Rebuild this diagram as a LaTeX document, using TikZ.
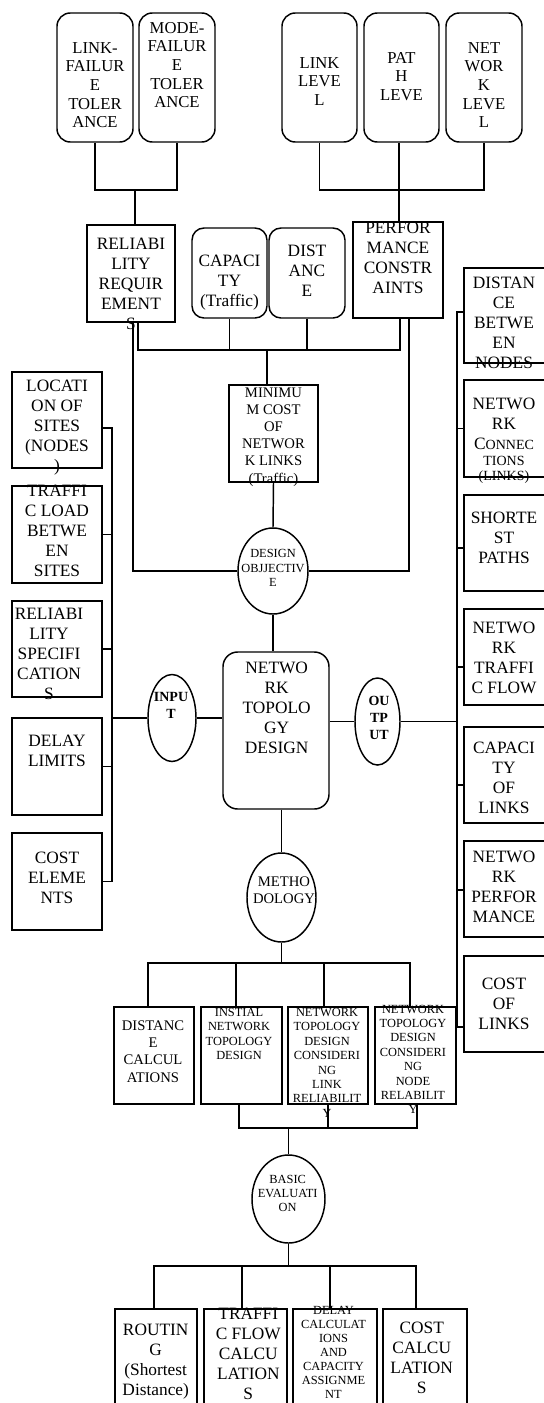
\documentclass[tikz,border=0pt]{standalone}
\usepackage{fontspec}
\setmainfont{Liberation Serif}
\usetikzlibrary{positioning,shapes.geometric}

\begin{document}
\begin{tikzpicture}[x=0.75pt,y=-0.75pt,
			line width=1.1pt,
			box/.style={draw,inner sep=0pt},
			rbox/.style={box,rounded corners=9pt},
			oval/.style={draw,ellipse,inner sep=0pt},
			sz/.style 2 args={minimum width=#1*0.75pt,minimum height=#2*0.75pt},
			lbl/.style={anchor=north,inner sep=0pt,align=center},
			toptxt/.style={lbl,font=\fontsize{12.5}{14}\selectfont},
			bigtxt/.style={lbl,font=\fontsize{13}{15}\selectfont},
			midtxt/.style={lbl,font=\fontsize{11}{12.9}\selectfont},
			smalltxt/.style={lbl,font=\fontsize{9.3}{10.8}\selectfont},
			boldtxt/.style={lbl,font=\fontsize{10.5}{12.6}\selectfont\bfseries}]
			
			\useasboundingbox (0,0) rectangle (543,1403);
			
			% goals on top
			\node[rbox,sz={76}{129},rounded corners=10pt] (lf) at (95,77.5) {};
			\node[rbox,sz={76}{129},rounded corners=10pt] (mf) at (177,77.5) {};
			\node[rbox,sz={75}{129},rounded corners=10pt] (ll) at (319.5,77.5) {};
			\node[rbox,sz={75}{129},rounded corners=10pt] (pl) at (401.5,77.5) {};
			\node[rbox,sz={76}{129},rounded corners=10pt] (nl) at (484,77.5) {};
			\node[toptxt] (lftext) at (95,41.5) {LINK-\\FAILUR\\E\\TOLER\\ANCE};
			\node[toptxt] (mftext) at (177,21.5) {MODE-\\FAILUR\\E\\TOLER\\ANCE};
			\node[toptxt] (lltext) at (319.5,56.5) {LINK\\LEVE\\L};
			\node[toptxt] (pltext) at (401.5,51.5) {PAT\\H\\LEVE};
			\node[toptxt] (nltext) at (484,41.5) {NET\\WOR\\K\\LEVE\\L};
			
			% requirements and constraints
			\node[box,sz={88}{97}] (rr) at (131,273.5) {};
			\node[rbox,sz={75}{90}] (cap) at (229.5,273) {};
			\node[rbox,sz={76}{90}] (dst) at (307,273) {};
			\node[box,sz={90}{96}] (pc) at (398,270) {};
			\node[bigtxt] (rrtext) at (131,237.3) {RELIABI\\LITY\\REQUIR\\EMENT\\S};
			\node[bigtxt] (captext) at (229.5,254.3) {CAPACI\\TY\\(Traffic)};
			\node[bigtxt] (dsttext) at (307,244.3) {DIST\\ANC\\E};
			\node[bigtxt] (pctext) at (398,221) {PERFOR\\MANCE\\CONSTR\\AINTS};
			
			\node[box,sz={89}{97}] (mcl) at (273.5,433.5) {};
			\node[midtxt] (mcltext) at (273.5,386.8) {MINIMU\\M COST\\OF\\NETWOR\\K LINKS\\(Traffic)};
			
			\node[oval,sz={70}{86}] (do) at (273,571) {};
			\node[smalltxt] (dotext) at (273,549) {DESIGN\\OBJJECTIV\\E};
			
			% inputs
			\node[box,sz={90}{96}] (loc) at (57,420) {};
			\node[box,sz={90}{97}] (tl) at (57,534.5) {};
			\node[box,sz={90}{96}] (rs) at (57,649) {};
			\node[box,sz={90}{97}] (dlm) at (57,766.5) {};
			\node[box,sz={90}{97}] (ce) at (57,881.5) {};
			\node[bigtxt] (loctext) at (57,379.3) {LOCATI\\ON OF\\SITES\\(NODES\\)};
			\node[bigtxt] (tltext) at (57,484.3) {TRAFFI\\C LOAD\\BETWE\\EN\\SITES};
			\node[bigtxt] (rstext) at (49,607.3) {RELIABI\\LITY\\SPECIFI\\CATION\\S};
			\node[bigtxt] (dlmtext) at (57,734.3) {DELAY\\LIMITS};
			\node[bigtxt] (cetext) at (57,851.3) {COST\\ELEME\\NTS};
			
			% outputs
			\node[box,sz={82}{95}] (dbn) at (505,315.5) {};
			\node[box,sz={82}{97}] (nc) at (505,428.5) {};
			\node[box,sz={82}{96}] (sp) at (505,543) {};
			\node[box,sz={82}{96}] (ntf) at (505,657) {};
			\node[box,sz={82}{96}] (col) at (505,775) {};
			\node[box,sz={82}{96}] (np) at (505,889) {};
			\node[box,sz={82}{96}] (cl) at (505,1004) {};
			\node[bigtxt] (dbntext) at (504,276) {DISTAN\\CE\\BETWE\\EN\\NODES};
			\node[bigtxt] (nctext) at (504,397.3) {NETWO\\RK\\C{\fontsize{10.5}{12}\selectfont ONNEC}\\[-3pt]{\fontsize{10.5}{12}\selectfont TIONS}\\[-4pt]{\fontsize{10.5}{12}\selectfont (LINKS)}};
			\node[bigtxt] (sptext) at (504,511) {SHORTE\\ST\\PATHS};
			\node[bigtxt] (ntftext) at (504,621) {NETWO\\RK\\TRAFFI\\C FLOW};
			\node[bigtxt] (coltext) at (504,741) {CAPACI\\TY\\OF\\LINKS};
			\node[bigtxt] (nptext) at (504,850.3) {NETWO\\RK\\PERFOR\\MANCE};
			\node[bigtxt] (cltext) at (504,977.6) {COST\\OF\\LINKS};
			
			% centre
			\node[oval,sz={48}{87}] (inp) at (172,718) {};
			\node[rbox,sz={106}{157},rounded corners=11pt] (ntd) at (276,730.5) {};
			\node[oval,sz={45}{87}] (out) at (377.5,721.5) {};
			\node[boldtxt] (inptext) at (171,691.4) {INPU\\T};
			\node[bigtxt] (ntdtext) at (276.7,661) {NETWO\\RK\\TOPOLO\\GY\\DESIGN};
			\node[boldtxt] (outtext) at (379,695.4) {OU\\TP\\UT};
			
			% methodology
			\node[oval,sz={69}{89}] (meth) at (281.5,897.5) {};
			\node[midtxt] (methtext) at (284,876) {METHO\\DOLOGY};
			
			\node[box,sz={80}{97}] (dc) at (154,1055.5) {};
			\node[box,sz={81}{97}] (in) at (241.5,1055.5) {};
			\node[box,sz={80}{97}] (lr) at (328,1055.5) {};
			\node[box,sz={81}{97}] (nr) at (415.5,1055.5) {};
			\node[midtxt] (dctext) at (153,1020) {DISTANC\\E\\CALCUL\\ATIONS};
			\node[smalltxt] (intext) at (239,1007.6) {INSTIAL\\NETWORK\\TOPOLOGY\\DESIGN};
			\node[smalltxt] (lrtext) at (327,1007.6) {NETWORK\\TOPOLOGY\\DESIGN\\CONSIDERI\\NG\\LINK\\RELIABILIT\\Y};
			\node[smalltxt] (nrtext) at (413,1004.2) {NETWORK\\TOPOLOGY\\DESIGN\\CONSIDERI\\NG\\NODE\\RELABILIT\\Y};
			
			% evaluation
			\node[oval,sz={73}{88}] (be) at (288.5,1199) {};
			\node[smalltxt] (betext) at (287.7,1174.2) {BASIC\\EVALUATI\\ON};
			
			\node[box,sz={82}{106}] (rt) at (156,1362) {};
			\node[box,sz={83}{106}] (tf) at (245.5,1362) {};
			\node[box,sz={84}{106}] (dl) at (335,1362) {};
			\node[box,sz={84}{106}] (cc) at (425,1362) {};
			\node[bigtxt] (rttext) at (155.7,1323.3) {ROUTIN\\G\\(Shortest\\Distance)};
			\node[bigtxt] (tftext) at (248.3,1307.5) {TRAFFI\\C FLOW\\CALCU\\LATION\\S};
			\node[smalltxt,font=\fontsize{9.3}{10.4}\selectfont] (dltext) at (333.5,1306) {DELAY\\CALCULAT\\IONS\\AND\\CAPACITY\\ASSIGNME\\NT};
			\node[bigtxt] (cctext) at (421.7,1321) {COST\\CALCU\\LATION\\S};
			
			% junctions
			\coordinate (topl) at (135,190);
			\coordinate (topr) at (399,190);
			\coordinate (r1) at (138,350);
			\coordinate (r4) at (400,350);
			\coordinate (midb) at (267,350);
			\coordinate (loopl) at (133,571);
			\coordinate (loopr) at (409,571);
			\coordinate (i1) at (112,428);
			\coordinate (ib) at (112,718);
			\coordinate (o1) at (457,312);
			\coordinate (o3) at (457,548);
			\coordinate (o4) at (457,667);
			\coordinate (o5) at (457,785);
			\coordinate (o6) at (457,890);
			\coordinate (o7) at (457,1027);
			\coordinate (ob) at (457,721.5);
			\coordinate (m1) at (148,963);
			\coordinate (m2) at (236,963);
			\coordinate (m3) at (324,963);
			\coordinate (m4) at (410,963);
			\coordinate (l2) at (239,1128);
			\coordinate (l3) at (328,1128);
			\coordinate (l4) at (417,1128);
			\coordinate (b1) at (154,1266);
			\coordinate (b2) at (242,1266);
			\coordinate (b3) at (330,1266);
			\coordinate (b4) at (416,1266);
			
			\draw (lf.south) |- (topl) -| (mf.south);
			\draw (topl) -- (topl |- rr.north);
			\draw (ll.south) |- (topr) -| (nl.south);
			\draw (topr |- pl.south) -- (topr |- pc.north);
			
			\draw (r1 |- rr.south) -- (r1) -- (r4) -- (r4 |- pc.south);
			\draw (cap.south) -- (cap.south |- midb);
			\draw (dst.south) -- (dst.south |- midb);
			\draw (midb) -- (midb |- mcl.north);
			\draw (mcl.south) -- (do.north);
			\draw (loopl |- rr.south) -- (loopl) -- (do.west);
			\draw (loopr |- pc.south) -- (loopr) -- (do.east);
			\draw (do.south) -- (do.south |- ntd.north);
			
			\draw (i1 -| loc.east) -- (i1) -- (ib |- ce.east) -- (ce.east);
			\draw (tl.east) -- (tl.east -| ib);
			\draw (rs.east) -- (rs.east -| ib);
			\draw (dlm.east) -- (dlm.east -| ib);
			\draw (ib) -- (inp.west);
			\draw (inp.east) -- (inp.east -| ntd.west);
			
			\draw (out.west -| ntd.east) -- (out.west);
			\draw (out.east) -- (ob);
			\draw (o1 -| dbn.west) -- (o1) -- (o7) -- (o7 -| cl.west);
			\draw (nc.west) -- (nc.west -| ob);
			\draw (o3) -- (o3 -| sp.west);
			\draw (o4) -- (o4 -| ntf.west);
			\draw (o5) -- (o5 -| col.west);
			\draw (o6) -- (o6 -| np.west);
			
			\draw (meth.north |- ntd.south) -- (meth.north);
			\draw (meth.south) -- (meth.south |- m1);
			\draw (m1 |- dc.north) -- (m1) -- (m4) -- (m4 |- nr.north);
			\draw (m2) -- (m2 |- in.north);
			\draw (m3) -- (m3 |- lr.north);
			
			\draw (l2 |- in.south) -- (l2) -- (l4) -- (l4 |- nr.south);
			\draw (l3 |- lr.south) -- (l3);
			\draw (be.north |- l2) -- (be.north);
			
			\draw (be.south) -- (be.south |- b1);
			\draw (b1 |- rt.north) -- (b1) -- (b4) -- (b4 |- cc.north);
			\draw (b2) -- (b2 |- tf.north);
			\draw (b3) -- (b3 |- dl.north);
			
		\end{tikzpicture}
\end{document}
